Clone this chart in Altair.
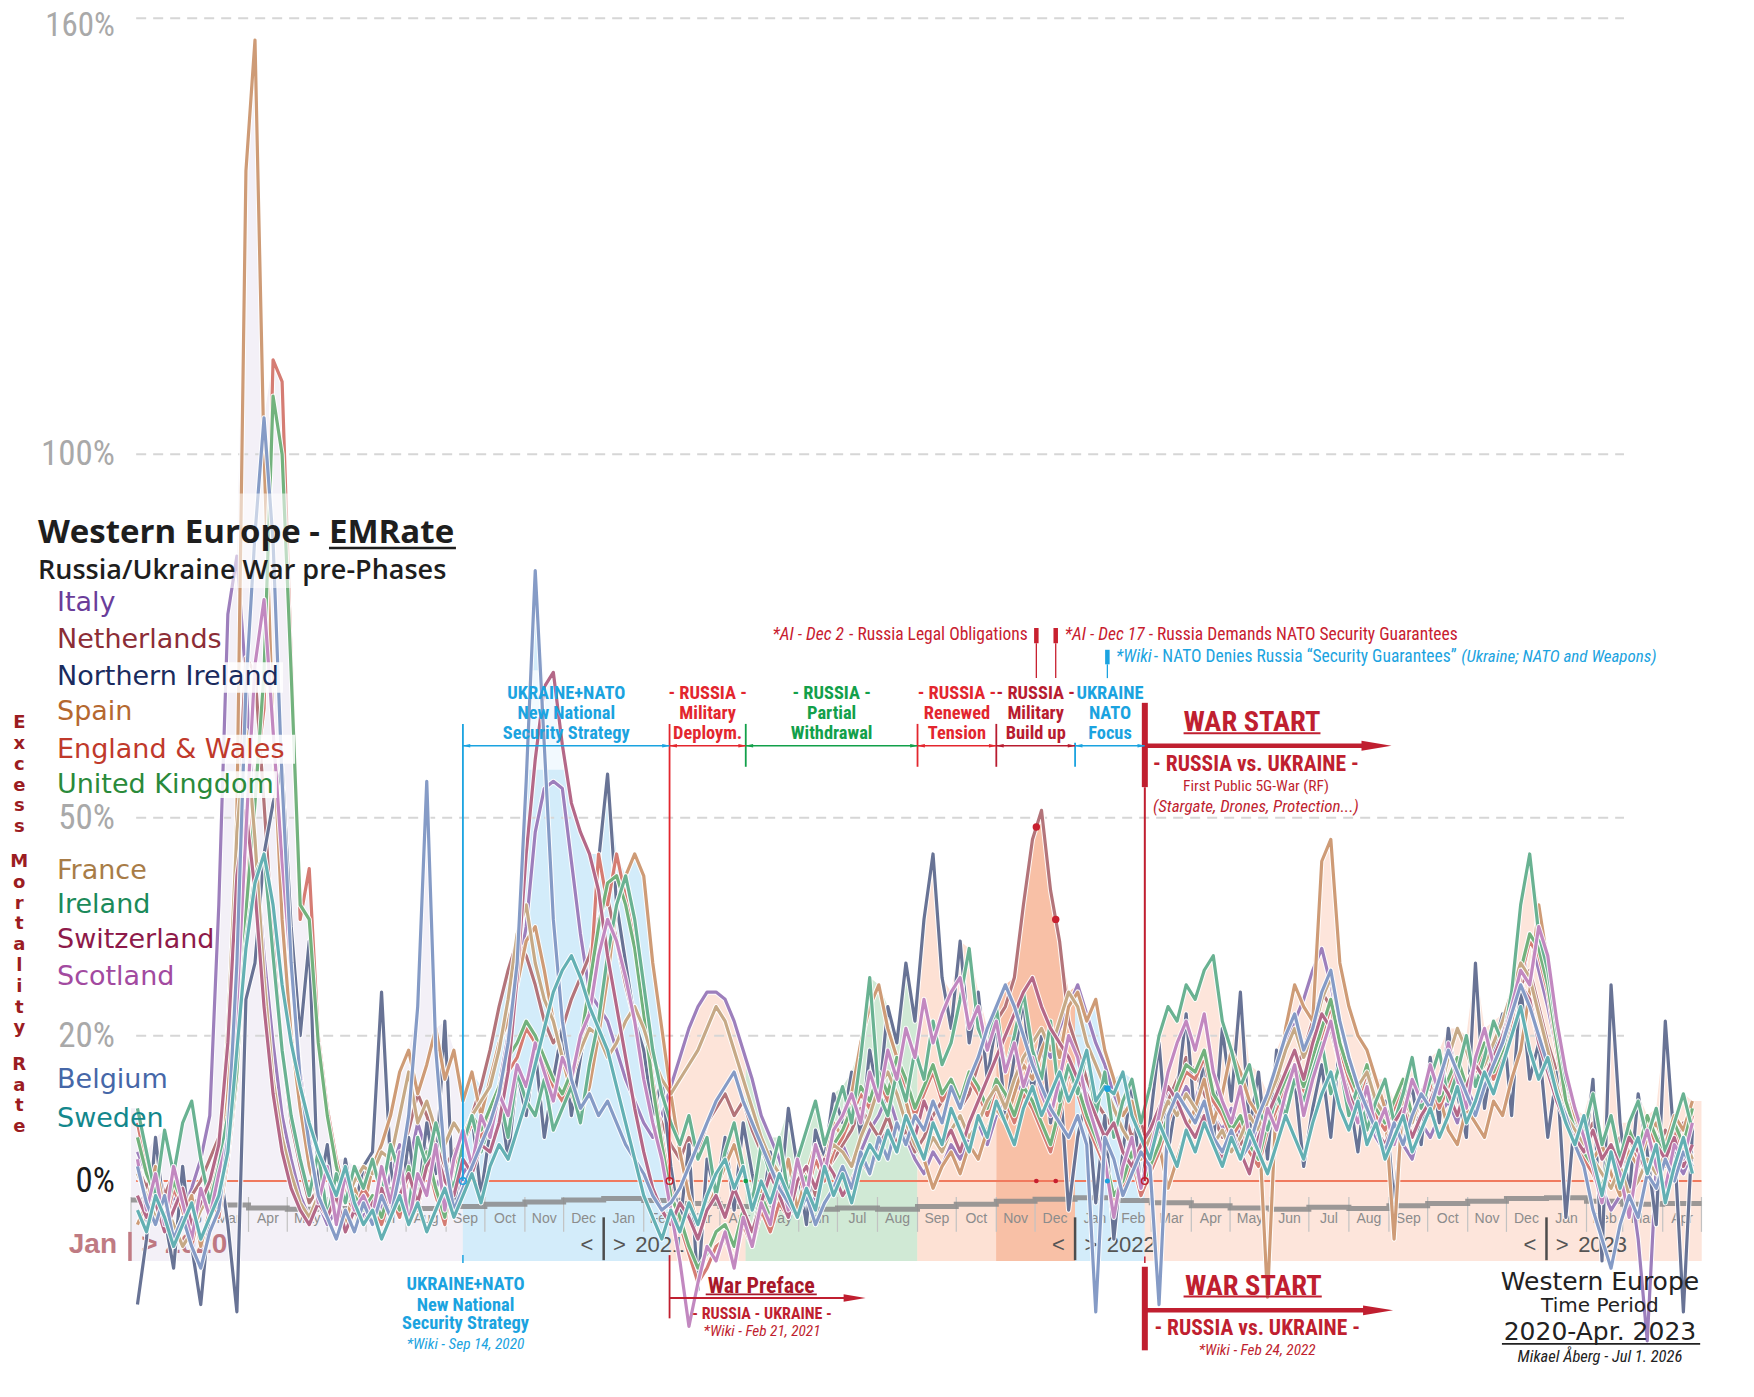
import altair as alt
import numpy as np
import pandas as pd

# ---------------------------------------------------------------- data
countries = ["Italy", "Netherlands", "Northern Ireland", "Spain", "England & Wales",
             "United Kingdom", "France", "Ireland", "Switzerland", "Scotland",
             "Belgium", "Sweden"]
country_colors = ["#6a3d9a", "#8c2d36", "#1a2b5e", "#b5682f", "#c0392b", "#2a8a3a",
                  "#a87c47", "#1b8a5a", "#8e1a4a", "#a24aa0", "#4667a8", "#13878c"]

# weekly excess mortality (%), weeks starting Mon 2020-01-06 ... 2023-04-24
italy = [4, 1, -3, -6, -2, -4, -1, 3, 9, 38, 78, 86, 69,
         46, 31, 19, 9, 3, -2, -5, -3, -6, -4, -7, -3, -5,
         -2, -4, 1, 5, 2, 8, 4, -1, 2, -3, 1, 3, 6,
         9, 13, 20, 28, 35, 48, 54, 55, 54, 44, 34, 26, 24,
         22, 18, 14, 11, 8, 6, 9, 13, 17, 21, 24, 26, 26,
         25, 22, 18, 14, 9, 6, 3, -1, -3, -5, -2, 1, 3,
         5, 2, 4, 7, 9, 12, 8, 6, 3, 1, 4, 2, 5,
         3, 6, 8, 5, 9, 11, 14, 12, 16, 19, 17, 21, 24,
         27, 23, 19, 16, 12, 9, 11, 7, 5, 9, 12, 10, 13,
         11, 15, 9, 7, 10, 6, 4, 8, 12, 15, 19, 22, 25,
         29, 32, 27, 21, 17, 12, 9, 6, 4, 7, 5, 3, 8,
         6, 9, 11, 8, 13, 10, 12, 15, 17, 21, 26, 34, 29,
         24, 18, 12, 8, 5, 2, -1, -4, -2, 1, -8, -22, 2, -1, 3, 1, 4]
netherlands = [2, -1, 3, -2, 1, -4, -2, 0, 3, 6, 15, 48, 72,
               70, 52, 33, 18, 8, 2, -3, -1, -4, -2, 0, -3, 1,
               2, -1, 4, 3, 7, 12, 9, 5, 2, 4, 6, 9, 13,
               18, 24, 29, 33, 31, 27, 22, 19, 21, 25, 28, 31, 36,
               39, 33, 27, 22, 16, 11, 8, 5, 3, 6, 4, 8, 10,
               12, 9, 11, 7, 4, 2, -1, -3, 0, 2, -2, 1, 3,
               5, 7, 10, 8, 6, 9, 5, 7, 4, 6, 9, 11, 14,
               10, 12, 16, 19, 22, 24, 28, 38, 47, 51, 40, 33, 22,
               18, 14, 11, 9, 7, 10, 6, 8, 4, 7, 11, 14, 17,
               15, 12, 9, 6, 8, 5, 7, 10, 6, 9, 12, 15, 18,
               22, 26, 24, 19, 16, 12, 14, 10, 7, 9, 6, 8, 11,
               13, 10, 14, 12, 9, 11, 13, 16, 18, 22, 27, 29, 24,
               19, 15, 11, 9, 6, 8, 5, 3, 6, 4, 2, 5, 3, 7, 5, 8, 6]
northern_ireland = [-17, -8, 6, -5, -12, 2, -9, -17, -4, 3, -6, -18, 25,
                    30, 45, 52, 57, 35, 20, 33, -2, 5, -6, 3, -4, 2,
                    4, 26, 2, -5, 6, -3, 8, 1, 22, -4, 5, 9, -2,
                    7, 12, 3, 15, 9, 18, 6, 14, 21, 9, 17, 24, 44,
                    56, 38, 30, 22, 18, 9, 14, 2, -6, 5, -15, 3, -2,
                    6, -4, 8, 1, -5, 4, -3, 10, 2, -6, 7, 3, 12,
                    8, 15, 6, 18, 11, 24, 19, 30, 22, 36, 45, 28, 21,
                    33, 19, 26, 14, 22, 9, 17, 25, 12, 20, 8, 15, -4,
                    6, 12, -3, 9, -8, 4, 14, -2, 8, 19, 4, 12, 23,
                    8, 17, 5, 21, 11, 26, 7, 15, 3, 18, 9, 14, 2,
                    10, 16, 6, 19, 12, 4, 15, 8, 11, -3, 9, 13, 5,
                    17, 8, 21, 12, 6, 30, 10, 18, 23, 9, 27, 14, 19,
                    6, 15, -5, 9, 3, 14, -11, 27, 8, -2, 12, 4, -6, 22, 5, -18, 7]
spain = [-6, -3, 2, -4, -8, -5, -2, -9, -4, 2, 12, 51, 139,
         157, 100, 62, 36, 20, 10, 2, -3, -5, -2, -6, -1, -4,
         2, 5, 9, 15, 18, 12, 16, 21, 14, 18, 11, 15, 9,
         14, 19, 22, 27, 33, 35, 29, 22, 17, 12, 9, 13, 20,
         28, 38, 42, 45, 42, 30, 21, 12, 4, -2, -6, -4, -1,
         2, 5, 1, -3, -1, -5, -2, 3, -4, 1, 5, 2, 8,
         6, 12, 19, 24, 27, 21, 17, 11, 6, 3, -1, 2, 4,
         1, 5, 3, 7, 10, 8, 12, 16, 14, 18, 21, 17, 24,
         26, 22, 25, 18, 14, 9, 11, 6, 2, 5, -1, 3, 7,
         10, 14, 8, 12, 18, 15, 11, 9, -16, 12, 21, 27, 24,
         22, 44, 47, 30, 24, 20, 18, 14, 10, -8, 12, 8, 11,
         9, 12, 7, 5, 10, 8, 6, 11, 9, 14, 18, 26, 38,
         30, 22, 14, 9, 6, 3, 5, 1, -2, 4, 2, 6, 8, 5, 9, 7, 11]
england_wales = [8, 2, -3, -6, -1, -4, -9, -3, -2, -5, 3, 14, 38,
                 55, 65, 113, 110, 72, 36, 43, 20, 10, 3, -2, -4, -1,
                 -3, -6, -2, -5, 1, -4, 3, -2, -6, 2, 5, 8, 6,
                 9, 12, 15, 17, 21, 19, 16, 13, 11, 14, 18, 26, 45,
                 38, 45, 39, 33, 24, 14, 6, -1, -6, -10, -14, -12, -9,
                 -8, -11, -6, -9, -4, -7, -3, -5, 1, -2, 3, 0, 4,
                 6, 9, 12, 10, 14, 11, 16, 13, 9, 12, 15, 11, 13,
                 10, 14, 12, 9, 13, 11, 8, 12, 10, 7, 4, 9, 15,
                 12, 8, 5, 2, -3, -1, 3, -2, 1, 4, 8, 12, 15,
                 14, 17, 11, 9, 6, 8, 4, 2, 7, 10, 13, 15, 12,
                 16, 20, 24, 18, 14, 11, 15, 9, 7, 10, 13, 8, 11,
                 14, 10, 13, 16, 12, 15, 18, 14, 17, 22, 28, 33, 31,
                 26, 18, 10, 6, 3, 1, -2, 4, 2, 6, 3, 8, 5, 2, 7, 4, 9]
united_kingdom = [6, 1, -2, -5, 0, -3, -7, -2, -1, -4, 4, 15, 37,
                  52, 70, 108, 100, 70, 38, 36, 19, 9, 2, -3, -2, -4,
                  -2, -5, -1, -4, 2, -3, 4, -1, -5, 3, 6, 9, 7,
                  10, 13, 17, 19, 22, 20, 17, 14, 12, 15, 19, 27, 35,
                  41, 42, 38, 32, 23, 13, 5, -2, -5, -9, -12, -10, -7,
                  -6, -9, -4, -7, -2, -5, -1, -3, 2, 0, 4, 2, 5,
                  7, 10, 13, 11, 15, 12, 17, 14, 10, 13, 16, 12, 14,
                  11, 15, 13, 10, 14, 12, 9, 13, 11, 8, 5, 10, 16,
                  13, 9, 6, 3, -2, 0, 4, -1, 2, 5, 9, 13, 16,
                  15, 18, 12, 10, 7, 9, 5, 3, 8, 11, 14, 16, 13,
                  17, 21, 25, 19, 15, 12, 16, 10, 8, 11, 14, 9, 12,
                  15, 11, 14, 17, 13, 16, 19, 15, 18, 23, 29, 34, 32,
                  27, 19, 11, 7, 4, 2, -1, 5, 3, 7, 4, 9, 6, 3, 8, 5, 10]
france = [1, -2, -5, -3, -6, -9, -7, -4, -2, 3, 21, 48, 62,
          47, 28, 14, 6, 1, -3, -5, -2, -4, -1, -3, 0, 2,
          1, 4, 3, 9, 15, 8, 11, 7, 5, 8, 6, 9, 11,
          13, 18, 25, 34, 38, 30, 25, 22, 17, 15, 18, 21, 20,
          17, 19, 22, 24, 21, 17, 14, 12, 14, 16, 18, 21, 24,
          22, 18, 14, 10, 6, 3, 1, -2, 0, 2, -1, 3, 5,
          4, 2, 6, 9, 13, 15, 12, 8, 5, 3, 6, 4, 7,
          9, 6, 8, 11, 13, 10, 14, 17, 19, 21, 18, 22, 26,
          24, 19, 16, 13, 10, 7, 5, 3, 6, 8, 11, 9, 12,
          10, 8, 5, 7, 4, 6, 9, 7, 11, 14, 18, 21, 17,
          20, 25, 28, 22, 17, 13, 15, 11, 9, 7, 10, 8, 12,
          15, 12, 17, 21, 18, 14, 16, 19, 22, 26, 30, 28, 23,
          18, 13, 9, 7, 5, 3, 1, -1, 2, -2, 0, 3, 1, 4, 2, 6, 3]
ireland = [10, 4, -2, 7, 1, 8, 11, 3, -3, 2, 9, 21, 33,
           42, 45, 31, 18, 9, 3, -2, 4, -5, 1, -3, 2, -1,
           3, -2, 5, 1, -4, 6, 2, 8, 3, -1, 5, 9, 4,
           8, 12, 6, 15, 11, 9, 14, 7, 10, 13, 8, 16, 22,
           31, 38, 42, 36, 27, 18, 12, 8, 5, 9, 3, 6, -2,
           4, 8, 2, -3, 5, 1, 6, -2, 3, 7, 11, 5, 9,
           13, 8, 17, 28, 12, 9, 15, 11, 18, 14, 22, 16, 19,
           25, 32, 21, 18, 24, 15, 20, 26, 18, 14, 22, 11, 16,
           12, 18, 9, 15, 6, 11, 14, 8, 13, 20, 24, 22, 27,
           25, 29, 31, 22, 18, 13, 16, 10, 7, 12, 9, 14, 11,
           15, 19, 12, 16, 9, 13, 7, 11, 14, 8, 12, 17, 10,
           14, 18, 11, 15, 20, 13, 17, 22, 19, 26, 38, 45, 34,
           29, 21, 14, 10, 7, 12, 5, 9, 3, 8, 11, 6, 10, 4, 8, 12, 7]
switzerland = [-2, -5, -3, -7, -4, -1, -6, -3, 0, 5, 19, 42, 51,
               40, 24, 12, 4, -1, -4, -6, -3, -5, -2, -7, -4, -6,
               -3, -1, -5, -2, 1, -3, 2, 4, 0, -2, 3, 1, 5,
               4, 8, 15, 28, 45, 58, 68, 70, 60, 52, 48, 45, 40,
               31, 24, 17, 10, 4, -1, -4, -6, -3, -5, -8, -4, -2,
               -5, -1, -4, -7, -3, 1, -2, -5, 0, 2, -1, 3, 1,
               -2, 0, 3, 1, 5, 7, 4, 9, 6, 11, 8, 5, 7,
               4, 8, 11, 14, 17, 20, 23, 26, 28, 24, 21, 19, 17,
               14, 12, 9, 6, 8, 4, 2, 5, 7, 10, 13, 11, 8,
               6, 9, 5, 3, 7, 4, 1, 6, 9, 12, 15, 18, 14,
               19, 23, 21, 16, 12, 9, 11, 7, 5, 8, 10, 6, 9,
               11, 14, 12, 9, 13, 16, 14, 17, 20, 24, 27, 25, 19,
               15, 11, 8, 6, 4, 7, 3, 5, 2, 6, 4, 1, 5, 3, 6, 2, 5]
scotland = [3, -4, 1, -6, 2, -3, -8, -1, -5, 1, 6, 24, 48,
            71, 80, 62, 44, 29, 15, 6, -3, 2, -6, 1, -4, -2,
            -5, 2, -3, 4, -6, 1, -2, 5, -4, 3, 7, 2, 9,
            6, 12, 9, 16, 13, 19, 15, 11, 17, 14, 20, 23, 31,
            36, 33, 28, 22, 14, 8, 3, -4, -11, -20, -14, -9, -11,
            -7, -12, -5, -9, -3, -6, 1, -4, 3, -2, 5, 1, 7,
            9, 12, 8, 15, 11, 18, 14, 21, 17, 25, 19, 23, 26,
            28, 21, 24, 18, 22, 15, 19, 13, 17, 12, 9, 14, 20,
            17, 11, 7, 3, -5, 2, 6, -1, 4, 9, 15, 19, 22,
            18, 23, 15, 11, 8, 13, 6, 4, 10, 7, 12, 16, 9,
            14, 18, 22, 16, 11, 8, 13, 7, 10, 5, 9, 14, 11,
            16, 12, 19, 14, 10, 17, 21, 16, 19, 24, 29, 27, 35,
            31, 22, 15, 10, 6, 2, -3, 4, 1, -5, 3, 7, 2, -1, 5, 3, 8]
belgium = [2, -3, -6, -2, -8, -5, -9, -12, -7, -4, 6, 30, 68,
           89, 105, 88, 55, 30, 14, 5, -2, -5, -8, -4, -7, -3,
           -6, -2, -5, 1, 9, 24, 55, 18, 3, -4, -1, 2, 5,
           8, 12, 19, 30, 55, 84, 60, 36, 22, 14, 10, 12, 9,
           11, 8, 5, 3, 1, -2, -4, -3, -1, 2, 5, 8, 11,
           13, 15, 11, 8, 5, 2, -1, -3, -5, -2, -6, -3, -1,
           2, -1, 4, 1, 6, 3, 8, 5, 9, 7, 11, 8, 13,
           10, 14, 17, 21, 24, 27, 24, 20, 16, 13, 10, 8, 6,
           9, 5, -18, 6, 3, -2, 1, 4, 2, -17, 9, 12, 10,
           8, 11, 6, 4, 7, 3, 5, 9, 12, 16, 20, 23, 18,
           21, 26, 29, 22, 17, 13, 10, 7, 4, 8, 5, 9, 12,
           10, 14, 18, 15, 12, 9, 13, 16, 19, 23, 27, 24, 20,
           16, 12, 9, 5, 2, -4, -8, -12, -6, -2, -5, 1, -1, 3, 0, 4, 2]
sweden = [-4, -7, -2, -5, -9, -6, -3, -8, -5, -2, 4, 18, 32,
          41, 45, 38, 27, 19, 13, 8, 4, 1, -2, 2, -3, -6,
          -4, -8, -5, -2, -6, -3, -7, -4, -1, -5, -2, 1, -3,
          2, 5, 3, 7, 11, 16, 21, 26, 29, 31, 28, 24, 21,
          18, 13, 8, 3, -2, -5, -8, -4, -7, -3, -6, -2, 1,
          3, -1, 2, -4, 0, -3, 1, -2, -5, -1, -4, 2, -2,
          1, -3, 2, 5, 3, 7, 4, 9, 6, 3, 8, 5, 10,
          7, 4, 9, 6, 11, 8, 5, 10, 13, 9, 12, 15, 11,
          14, 18, 11, 13, 12, 15, 9, 6, 3, 8, 5, 2, 7,
          4, 8, 5, 2, 6, 3, 7, 4, 1, 5, 9, 6, 3,
          8, 12, 15, 10, 7, 11, 5, 8, 3, 6, 9, 4, 7,
          10, 6, 9, 13, 8, 11, 15, 12, 16, 20, 24, 18, 14,
          17, 12, 8, 5, 9, 3, -2, 4, -1, 3, 6, 1, 5, -3, 2, 6, 1]

# monthly grey reference step line (%), Jan 2020 ... Apr 2023
reference_steps = [-2.6, -2.9, -3.3, -3.7, -3.9, -3.8, -3.6, -3.8, -3.5, -3.2, -2.9, -2.6,
                   -2.4, -2.7, -3.1, -3.5, -3.8, -3.9, -3.7, -3.9, -3.5, -3.2, -2.8, -2.5,
                   -2.3, -2.7, -3.0, -3.4, -3.7, -3.9, -3.6, -3.8, -3.4, -3.1, -2.8, -2.4,
                   -2.3, -2.8, -3.2, -3.1]

month_names = ["Jan", "Feb", "Mar", "Apr", "May", "Jun", "Jul", "Aug", "Sep", "Oct", "Nov", "Dec"]
y_ticks = [160, 100, 50, 20]
y_tick_labels = ["160%", "100%", "50%", "20%"]

phase_start = ["2020-01-01", "2020-09-14", "2021-02-21", "2021-04-21",
               "2021-09-01", "2021-11-01", "2022-01-01", "2022-02-24"]
phase_end = phase_start[1:] + ["2023-05-01"]
phase_fill = ["#f3f0f7", "#d3ecfa", "#fde4d9", "#d0e9d5",
              "#fde1d4", "#f8c0a6", "#d3ecfa", "#fde5db"]
phase_line = [None, "#1ba3e0", "#e3262e", "#12a04a", "#e3262e", "#b81c30", "#1ba3e0", None]

# ---------------------------------------------------------------- helpers
series = dict(zip(countries, [italy, netherlands, northern_ireland, spain, england_wales,
                              united_kingdom, france, ireland, switzerland, scotland,
                              belgium, sweden]))
ORIGIN = pd.Timestamp("2020-01-01")
weeks = pd.date_range("2020-01-06", periods=173, freq="7D")
week_day = np.array((weeks - ORIGIN).days, dtype=float)
for c, v in series.items():
    if len(v) != len(week_day):
        raise ValueError(f"{c} has {len(v)} values")


def D(s):
    return float((pd.Timestamp(s) - ORIGIN).days)


def soften(hex_color, keep=0.66):
    r, g, b = (int(hex_color[i:i + 2], 16) for i in (1, 3, 5))
    mix = [round(v * keep + 255 * (1 - keep)) for v in (r, g, b)]
    return "#{:02x}{:02x}{:02x}".format(*mix)


W, H = 1738, 1380
PX_DAY, PX_PCT = 1.2915, 7.267
X0_PX, Y0_PX = 123, 1173
xscale = alt.Scale(domain=[-X0_PX / PX_DAY, (W - X0_PX) / PX_DAY], nice=False, zero=False)
yscale = alt.Scale(domain=[-(H - Y0_PX) / PX_PCT, Y0_PX / PX_PCT], nice=False, zero=False)


def X(f="x"):
    return alt.X(f"{f}:Q", scale=xscale, axis=None)


def Y(f="y", stack=False):
    if stack:
        return alt.Y(f"{f}:Q", scale=yscale, axis=None, stack=None)
    return alt.Y(f"{f}:Q", scale=yscale, axis=None)


NARROW = "Roboto Condensed, Roboto, sans-serif"
ARIAL = "Liberation Sans, Arial, sans-serif"
VERD = "DejaVu Sans, Verdana, sans-serif"
OPEN = "Open Sans, sans-serif"

layers = []


def texts(rows, size, color=None, font=NARROW, weight="normal", style="normal",
          align="center", baseline="middle", opacity=1.0, dy=0):
    cols = ["x", "y", "t"] if color is not None else ["x", "y", "t", "c"]
    df = pd.DataFrame(rows, columns=cols)
    kw = dict(font=font, fontSize=size, fontWeight=weight, fontStyle=style,
              align=align, baseline=baseline, opacity=opacity)
    if dy:
        kw["dy"] = dy
    enc = dict(x=X("x"), y=Y("y"), text="t:N")
    if color is not None:
        kw["color"] = color
    else:
        enc["color"] = alt.Color("c:N", scale=None)
    layers.append(alt.Chart(df).mark_text(**kw).encode(**enc))


def rules(rows, color, width, dash=None, opacity=1.0):
    df = pd.DataFrame(rows, columns=["x", "x2", "y", "y2"])
    kw = dict(color=color, strokeWidth=width, opacity=opacity)
    if dash:
        kw["strokeDash"] = dash
    layers.append(alt.Chart(df).mark_rule(**kw).encode(
        x=X("x"), x2=alt.X2("x2"), y=Y("y"), y2=alt.Y2("y2")))


def boxes(rows, color="white", opacity=0.85):
    df = pd.DataFrame(rows, columns=["x", "x2", "y", "y2"])
    layers.append(alt.Chart(df).mark_rect(color=color, opacity=opacity).encode(
        x=X("x"), x2=alt.X2("x2"), y=Y("y"), y2=alt.Y2("y2")))


def points(rows, color, size, filled=True, shape="circle", stroke_width=1.5):
    df = pd.DataFrame(rows, columns=["x", "y"])
    layers.append(alt.Chart(df).mark_point(
        shape=shape, size=size, filled=filled, color=color, opacity=1,
        strokeWidth=stroke_width).encode(x=X("x"), y=Y("y")))


ARROW_R = "M -1 -0.33 L 1 0 L -1 0.33 Z"
ARROW_SR = "M -1 -0.45 L 1 0 L -1 0.45 Z"
ARROW_SL = "M 1 -0.45 L -1 0 L 1 0.45 Z"
STRIP_BOTTOM = -11

# ---------------------------------------------------------------- phase fills
vals = np.array([series[c] for c in countries], dtype=float)
env = vals.max(axis=0)
for i, (s, e) in enumerate(zip(phase_start, phase_end)):
    sd, ed = D(s), D(e)
    m = (week_day > sd) & (week_day < ed)
    xs_ = [sd] + list(week_day[m]) + [ed]
    ys_ = [float(np.interp(sd, week_day, env))] + list(env[m]) + [float(np.interp(ed, week_day, env))]
    df_env = pd.DataFrame({"x": xs_, "y": ys_, "base": STRIP_BOTTOM})
    layers.append(alt.Chart(df_env).mark_area(color=phase_fill[i], opacity=1).encode(
        x=X("x"), y=Y("y", stack=True), y2=alt.Y2("base")))
    layers.append(alt.Chart(pd.DataFrame([{"x": sd, "x2": ed, "y": STRIP_BOTTOM, "y2": 0}])).mark_rect(
        color=phase_fill[i]).encode(x=X("x"), x2=alt.X2("x2"), y=Y("y"), y2=alt.Y2("y2")))

# translucent backing behind the phase-label block
boxes([(D("2020-09-14"), D("2022-02-24"), 56.6, 70.3)], opacity=0.7)

# ---------------------------------------------------------------- grid, month strip
END = D("2023-05-01")
rules([(4, 1156, v, v) for v in y_ticks], "#d6d6d6", 2, dash=[10, 7])

months = pd.date_range("2020-01-01", "2023-04-01", freq="MS")
year_starts = [D("2021-01-01"), D("2022-01-01"), D("2023-01-01")]
sep_rows = [((m - ORIGIN).days, (m - ORIGIN).days, -2.2, -7.0) for m in months
            if float((m - ORIGIN).days) not in year_starts] + [(END, END, -2.2, -7.0)]
rules(sep_rows, "#c2c2c2", 1.2)
rules([(yb, yb, -5.0, -10.9) for yb in year_starts], "#4d4d4d", 2.5)

texts([((m - ORIGIN).days + m.days_in_month / 2, -5.2, month_names[m.month - 1]) for m in months],
      14, "#8c8c8c", font=ARIAL)
yl = []
for yb in year_starts:
    yl.append((yb - 12.9, -8.8, "<"))
    yl.append((yb + 12.2, -8.8, ">"))
texts(yl, 22, "#555555", font=ARIAL)
texts([(yb + 24.5, -8.8, yr) for yb, yr in zip(year_starts, ["2021", "2022", "2023"])],
      22, "#555555", font=ARIAL, align="left")

ROSE = "#b5646e"
texts([(-10.8, -8.8, "Jan")], 28, ROSE, font=ARIAL, weight="bold", align="right", opacity=0.85)
texts([(14.3, -8.8, ">")], 28, ROSE, font=ARIAL, weight="bold", opacity=0.85)
texts([(26.3, -8.8, "2020")], 28, ROSE, font=ARIAL, weight="bold", align="left", opacity=0.85)
rules([(-0.8, -0.8, -7.0, -11.0)], ROSE, 3.5, opacity=0.85)

# grey reference step line
ref_df = pd.DataFrame({"x": [(m - ORIGIN).days for m in months] + [END],
                       "y": reference_steps + [reference_steps[-1]]})
layers.append(alt.Chart(ref_df).mark_line(interpolate="step-after", color="#8a8a8a",
                                          strokeWidth=5, opacity=0.85).encode(x=X("x"), y=Y("y")))

# zero line
rules([(4, END, 0, 0)], "#f07a5e", 2)

# ---------------------------------------------------------------- country lines (white halo + soft colour)
for c, col in zip(countries, country_colors):
    df_c = pd.DataFrame({"day": week_day, "value": series[c]})
    layers.append(alt.Chart(df_c).mark_line(color="white", strokeWidth=5.2, strokeJoin="round",
                                            opacity=0.9).encode(x=X("day"), y=Y("value")))
    layers.append(alt.Chart(df_c).mark_line(color=soften(col), strokeWidth=3.2, strokeJoin="round",
                                            opacity=1).encode(x=X("day"), y=Y("value")))

# ---------------------------------------------------------------- phase markers (top)
BLUE, RED, GREEN, DRED, WRED = "#1ba3e0", "#e3262e", "#12a04a", "#b81c30", "#c01f30"
d_sep14, d_feb21, d_apr21 = D("2020-09-14"), D("2021-02-21"), D("2021-04-21")
d_sep1, d_nov1, d_jan1, d_feb24 = D("2021-09-01"), D("2021-11-01"), D("2022-01-01"), D("2022-02-24")
d_dec2, d_dec17, d_jan26 = D("2021-12-02"), D("2021-12-17"), D("2022-01-26")

rules([(d_sep14, d_sep14, 62.9, 0)], BLUE, 1.8)
rules([(d_feb21, d_feb21, 62.9, 0)], RED, 1.8)
rules([(d_apr21, d_apr21, 62.9, 57.0)], GREEN, 1.8)
rules([(d_sep1, d_sep1, 62.9, 57.0)], RED, 1.8)
rules([(d_nov1, d_nov1, 62.9, 57.0)], DRED, 1.8)
rules([(d_jan1, d_jan1, 60.3, 57.0)], BLUE, 1.8)
rules([(d_feb24, d_feb24, 65.8, 54.2)], WRED, 6)
rules([(d_feb24, d_feb24, 54.2, 0)], WRED, 2)

ARROW_Y = 59.9
for i in range(1, 7):
    s, e = D(phase_start[i]), D(phase_end[i])
    rules([(s, e, ARROW_Y, ARROW_Y)], phase_line[i], 1.5)
    points([(s + 2.6, ARROW_Y)], phase_line[i], 64, shape=ARROW_SL)
    points([(e - 2.6, ARROW_Y)], phase_line[i], 64, shape=ARROW_SR)

# war start arrow (top)
rules([(d_feb24, 958, ARROW_Y, ARROW_Y)], WRED, 4.5)
points([(964.4, ARROW_Y)], WRED, 900, shape=ARROW_R)

# event ticks at the top
rules([(d_dec2, d_dec2, 74.0, 76.1), (d_dec17, d_dec17, 74.0, 76.1)], "#c8202f", 4.5)
rules([(d_dec2, d_dec2, 69.2, 74.0), (d_dec17, d_dec17, 69.2, 74.0)], "#c8202f", 1.3)
rules([(d_jan26, d_jan26, 71.1, 73.1)], BLUE, 4.5)
rules([(d_jan26, d_jan26, 69.2, 71.1)], BLUE, 1.3)

# event dots
nl = np.array(netherlands, dtype=float)
se = np.array(sweden, dtype=float)
points([(d_dec2, float(np.interp(d_dec2, week_day, nl))),
        (d_dec17, float(np.interp(d_dec17, week_day, nl)))], "#c8202f", 55)
points([(d_jan26, float(np.interp(d_jan26, week_day, se)))], BLUE, 45)
points([(d_dec2, 0), (d_dec17, 0)], "#c8202f", 22)
points([(d_jan26, 0)], BLUE, 25)
points([(d_apr21, 0)], GREEN, 22)
points([(d_sep14, 0)], BLUE, 45, filled=False)
points([(d_feb21, 0), (d_feb24, 0)], WRED, 45, filled=False)

# phase labels
LBL_Y = [67.2, 64.4, 61.6]
phase_labels = [
    (1, BLUE, ["UKRAINE+NATO", "New National", "Security Strategy"]),
    (2, RED, ["- RUSSIA -", "Military", "Deploym."]),
    (3, GREEN, ["- RUSSIA -", "Partial", "Withdrawal"]),
    (4, RED, ["- RUSSIA -", "Renewed", "Tension"]),
    (5, DRED, ["- RUSSIA -", "Military", "Build up"]),
    (6, BLUE, ["UKRAINE", "NATO", "Focus"]),
]
for i, col, lines in phase_labels:
    cx = (D(phase_start[i]) + D(phase_end[i])) / 2
    texts([(cx, yy, t) for yy, t in zip(LBL_Y, lines)], 18.4, col, weight="bold")

# top event texts
ARED = "#c8202f"
texts([(552, 75.2, "*AI - Dec 2")], 17.5, ARED, style="italic", align="right")
texts([(556, 75.2, "- Russia Legal Obligations")], 17.5, ARED, align="left")
texts([(723, 75.2, "*AI - Dec 17")], 17.5, ARED, style="italic", align="left")
texts([(788, 75.2, "- Russia Demands NATO Security Guarantees")], 17.5, ARED, align="left")
texts([(762.7, 72.1, "*Wiki")], 17.5, BLUE, style="italic", align="left")
texts([(792, 72.1, "- NATO Denies Russia \u201cSecurity Guarantees\u201d")], 17.5, BLUE, align="left")
texts([(1030, 72.1, "(Ukraine; NATO and Weapons)")], 17, BLUE, style="italic", align="left")

# war start block (top)
texts([(868, 63.2, "WAR START")], 28.5, WRED, weight="bold")
rules([(815, 921, 61.6, 61.6)], WRED, 2)
texts([(871, 57.2, "- RUSSIA vs. UKRAINE -")], 21.5, WRED, weight="bold")
texts([(871, 54.3, "First Public 5G-War (RF)")], 15.5, WRED)
texts([(871, 51.5, "(Stargate, Drones, Protection...)")], 17, WRED, style="italic")

# ---------------------------------------------------------------- bottom annotations
rules([(d_sep14, d_sep14, -10.2, -11.3)], BLUE, 1.5)
texts([(259, -14.2, "UKRAINE+NATO"), (259, -17.1, "New National"), (259, -19.6, "Security Strategy")],
      18.4, BLUE, weight="bold")
texts([(259, -22.4, "*Wiki  - Sep 14, 2020")], 15.3, BLUE, style="italic")

rules([(d_feb21, d_feb21, -10.2, -18.9)], WRED, 1.8)
texts([(488, -14.4, "War Preface")], 22, "#a8182a", weight="bold")
rules([(445, 531, -15.6, -15.6)], "#a8182a", 1.8)
rules([(d_feb21, 553, -16.1, -16.1)], WRED, 2.2)
points([(560.3, -16.1)], WRED, 484, shape=ARROW_R)
texts([(488.6, -18.3, "- RUSSIA - UKRAINE -")], 16, WRED, weight="bold")
texts([(488.6, -20.7, "*Wiki  - Feb 21, 2021")], 15.3, WRED, style="italic")

rules([(d_feb24, d_feb24, -10.4, -11.3)], WRED, 1.5)
rules([(d_feb24, d_feb24, -11.8, -23.3)], WRED, 6)
texts([(869, -14.4, "WAR START")], 28.5, WRED, weight="bold")
rules([(815, 922, -15.9, -15.9)], WRED, 2)
rules([(d_feb24, 959, -17.8, -17.8)], WRED, 4.5)
points([(965.6, -17.8)], WRED, 900, shape=ARROW_R)
texts([(872, -20.4, "- RUSSIA vs. UKRAINE -")], 21.5, WRED, weight="bold")
texts([(872, -23.3, "*Wiki  - Feb 24, 2022")], 15.3, WRED, style="italic")

texts([(1137.4, -13.9, "Western Europe")], 25, "#222222", font=VERD)
texts([(1137.4, -17.2, "Time Period")], 20, "#222222", font=VERD)
texts([(1137.4, -20.8, "2020-Apr. 2023")], 25, "#222222", font=VERD)
rules([(1061.5, 1215, -22.4, -22.4)], "#222222", 1.8)
texts([(1137.4, -24.2, "Mikael \u00c5berg - Jul 1. 2026")], 16.5, "#222222", style="italic")

# ---------------------------------------------------------------- left block
texts([(-12.4, 161.2, "160%")], 33, "#a9a9a9", align="right", baseline="top")
texts([(-12.4, v, t) for v, t in zip(y_ticks[1:], y_tick_labels[1:])], 35, "#a9a9a9", align="right")
texts([(-12.4, 0, "0%")], 35, "#1a1a1a", align="right")

# translucent backing boxes behind the title block and the long legend labels
boxes([(-72.0, 252.0, 81.6, 94.6)], opacity=0.55)
boxes([(-57.3, 117.7, 71.4, 67.2), (-57.3, 127.0, 61.4, 57.4), (-57.3, 113.0, 56.4, 52.7)])

legend_y = [79.5, 74.5, 69.4, 64.5, 59.3, 54.5, 42.7, 38.0, 33.2, 28.1, 13.9, 8.6]
texts([(-57.3, yy, c, col) for yy, c, col in zip(legend_y, countries, country_colors)],
      27, None, font=VERD, align="left")

texts([(146.3, 89.2, "Western Europe -")], 33, "#1e1e1e", font=OPEN, weight="bold", align="right")
texts([(153.3, 89.2, "EMRate")], 33, "#1e1e1e", font=OPEN, weight="bold", align="left")
rules([(153.3, 251.6, 87.1, 87.1)], "#1e1e1e", 2.5)
texts([(-72.0, 84.0, "Russia/Ukraine War pre-Phases")], 27, "#1e1e1e", font=OPEN, weight=600,
      align="left")

letters = []
for word, top in [("Excess", 63.0), ("Mortality", 43.9), ("Rate", 16.0)]:
    for k, ch in enumerate(word):
        letters.append((-86.5, top - k * 2.862, ch))
texts(letters, 18, "#9b1c22", font=VERD, weight="bold")

chart = alt.layer(*layers).properties(
    width=W, height=H, padding=0, autosize=alt.AutoSizeParams(type="none")
).configure_view(stroke=None)

chart.save("out.html", embed_options={"renderer": "svg", "actions": False})
